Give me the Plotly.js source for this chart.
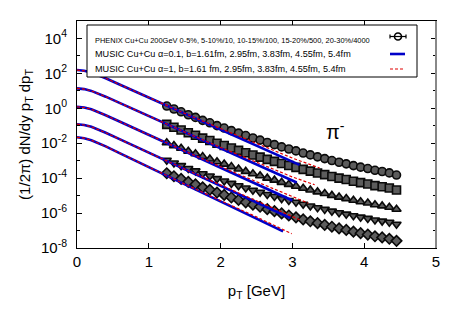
<!DOCTYPE html>
<html><head><meta charset="utf-8">
<script src="https://cdn.plot.ly/plotly-3.0.1.min.js"></script>
<style>html,body{margin:0;padding:0;background:#fff;}#chart{width:463px;height:324px;}</style>
</head><body><div id="chart"></div>
<script>
// ---- PHENIX data: pT grid shared by all centralities ----
const dataPt = [1.25,1.35,1.45,1.55,1.65,1.75,1.85,1.95,2.05,2.15,2.25,2.35,2.45,2.55,2.65,2.75,2.85,2.95,3.05,3.15,3.25,3.35,3.45,3.55,3.65,3.75,3.85,3.95,4.05,4.15,4.25,4.35,4.45];
const phenix0_5 = [1.35,0.912,0.631,0.427,0.302,0.204,0.148,0.102,0.0741,0.0525,0.0380,0.0275,0.0200,0.0151,0.0110,0.00832,0.00617,0.00468,0.00363,0.00275,0.00214,0.00166,0.00132,0.00102,0.000813,0.000661,0.000525,0.000427,0.000355,0.000282,0.000240,0.000200,0.000151];
const phenix5_10 = [0.120,0.0824,0.0578,0.0396,0.0284,0.0195,0.0143,0.0100,0.00738,0.00530,0.00389,0.00286,0.00210,0.00161,0.00119,0.000912,0.000685,0.000527,0.000415,0.000319,0.000251,0.000198,0.000159,0.000125,0.000101,8.32e-5,6.70e-5,5.52e-5,4.66e-5,3.75e-5,3.24e-5,2.73e-5,2.10e-5];
const phenix10_15 = [0.0107,0.00731,0.00512,0.00349,0.00250,0.00171,0.00125,0.000873,0.000638,0.000457,0.000334,0.000244,0.000179,0.000137,0.000100,7.69e-5,5.75e-5,4.42e-5,3.46e-5,2.65e-5,2.08e-5,1.63e-5,1.31e-5,1.03e-5,8.24e-6,6.76e-6,5.42e-6,4.46e-6,3.74e-6,3.01e-6,2.58e-6,2.17e-6,1.66e-6];
const phenix15_20 = [1.07e-3,7.40e-4,5.22e-4,3.60e-4,2.60e-4,1.79e-4,1.33e-4,9.36e-5,6.92e-5,5.00e-5,3.69e-5,2.73e-5,2.02e-5,1.56e-5,1.15e-5,8.93e-6,6.76e-6,5.24e-6,4.14e-6,3.21e-6,2.54e-6,2.01e-6,1.63e-6,1.29e-6,1.05e-6,8.69e-7,7.04e-7,5.83e-7,4.95e-7,4.02e-7,3.48e-7,2.96e-7,2.29e-7];
const phenix20_30 = [1.91e-4,1.29e-4,9.02e-5,6.12e-5,4.37e-5,2.97e-5,2.16e-5,1.50e-5,1.10e-5,7.80e-6,5.69e-6,4.14e-6,3.02e-6,2.30e-6,1.68e-6,1.28e-6,9.55e-7,7.28e-7,5.69e-7,4.34e-7,3.39e-7,2.64e-7,2.11e-7,1.65e-7,1.32e-7,1.08e-7,8.61e-8,7.04e-8,5.89e-8,4.70e-8,4.03e-8,3.37e-8,2.57e-8];

// ---- MUSIC alpha=0.1 (blue) ----
const bluePt1 = [0,0.1,0.2,0.3,0.4,0.6,0.8,1.0,1.5,2.0,2.5,3.1];
const blue1 = [155,141,112,79.4,52.5,22.4,9.55,4.07,0.490,0.0603,0.00741,0.000575];
const bluePt2 = [0,0.1,0.2,0.3,0.4,0.6,0.8,1.0,1.5,2.0,2.5,3.06];
const blue2 = [13.8,12.6,9.95,7.03,4.63,1.97,0.836,0.355,0.0422,0.00513,0.000624,5.62e-5];
const bluePt3 = [0,0.1,0.2,0.3,0.4,0.6,0.8,1.0,1.5,2.0,2.5,3.0];
const blue3 = [1.23,1.11,0.877,0.615,0.403,0.169,0.0708,0.0297,0.00342,0.000404,4.75e-5,5.25e-6];
const bluePt4 = [0,0.1,0.2,0.3,0.4,0.6,0.8,1.0,1.5,2.0,2.5,2.97];
const blue4 = [0.123,0.111,0.0869,0.0608,0.0396,0.0165,0.00687,0.00286,0.000323,3.73e-5,4.32e-6,5.25e-7];
const bluePt5 = [0,0.1,0.2,0.3,0.4,0.6,0.8,1.0,1.5,2.0,2.5,2.87];
const blue5 = [0.0219,0.0194,0.0149,0.0103,0.00658,0.00264,0.00106,0.000427,4.42e-5,4.68e-6,4.95e-7,8.91e-8];

// ---- MUSIC alpha=1 (red dashed) ----
const redPt1 = [0,0.1,0.2,0.3,0.4,0.6,0.8,1.0,1.5,2.0,2.5,3.0,3.38];
const red1 = [155,141,112,79.4,52.5,22.4,9.55,4.17,0.513,0.0692,0.0100,0.00141,0.00038];
const redPt2 = [0,0.1,0.2,0.3,0.4,0.6,0.8,1.0,1.5,2.0,2.5,3.0,3.31];
const red2 = [13.8,12.6,9.95,7.03,4.63,1.97,0.836,0.36,0.0437,0.00575,0.000794,0.000117,4.17e-5];
const redPt3 = [0,0.1,0.2,0.3,0.4,0.6,0.8,1.0,1.5,2.0,2.5,3.0,3.22];
const red3 = [1.23,1.11,0.877,0.615,0.403,0.169,0.0708,0.030,0.00355,0.000447,6.03e-5,8.32e-6,3.72e-6];
const redPt4 = [0,0.1,0.2,0.3,0.4,0.6,0.8,1.0,1.5,2.0,2.5,3.1];
const red4 = [0.123,0.111,0.0869,0.0608,0.0396,0.0165,0.00687,0.0029,0.000331,4.07e-5,5.25e-6,4.17e-7];
const redPt5 = [0,0.1,0.2,0.3,0.4,0.6,0.8,1.0,1.5,2.0,2.5,2.99];
const red5 = [0.0219,0.0194,0.0149,0.0103,0.00658,0.00264,0.00106,0.00043,4.57e-5,5.13e-6,6.03e-7,6.61e-8];

const yTickVals = [1e-8,1e-6,1e-4,1e-2,1,1e2,1e4];
const yTickText = ['10<sup>-8</sup>','10<sup>-6</sup>','10<sup>-4</sup>','10<sup>-2</sup>','10<sup>0</sup>','10<sup>2</sup>','10<sup>4</sup>'];
const xTickVals = [0,1,2,3,4,5];

const legendTexts = [
  'PHENIX Cu+Cu 200GeV 0-5%, 5-10%/10, 10-15%/100, 15-20%/500, 20-30%/4000',
  'MUSIC Cu+Cu \u03b1=0.1, b=1.61fm, 2.95fm, 3.83fm, 4.55fm, 5.4fm',
  'MUSIC Cu+Cu \u03b1=1, b=1.61 fm, 2.95fm, 3.83fm, 4.55fm, 5.4fm'
];

const FONT = 'Liberation Sans, Arial, Helvetica, sans-serif';
const dataSets = [phenix0_5, phenix5_10, phenix10_15, phenix15_20, phenix20_30];
const symbols = ['circle','square','triangle-up','triangle-down','diamond'];
const traces = [];
dataSets.forEach((ys, i) => {
  traces.push({x: dataPt, y: ys, type: 'scatter', mode: 'markers',
    marker: {symbol: symbols[i], size: 8, color: '#5c5c5c', line: {color: '#0a0a0a', width: 1.6}},
    error_y: {type: 'percent', value: 10, color: '#000', thickness: 1, width: 1.5},
    showlegend: false, hoverinfo: 'skip'});
});
const blues = [[bluePt1,blue1],[bluePt2,blue2],[bluePt3,blue3],[bluePt4,blue4],[bluePt5,blue5]];
blues.forEach(([x,y]) => traces.push({x, y, type:'scatter', mode:'lines',
  line:{color:'#0000c8', width:2.6}, showlegend:false, hoverinfo:'skip'}));
const reds = [[redPt1,red1],[redPt2,red2],[redPt3,red3],[redPt4,red4],[redPt5,red5]];
reds.forEach(([x,y]) => traces.push({x, y, type:'scatter', mode:'lines',
  line:{color:'#e00000', width:1.2, dash:'3px,2px'}, showlegend:false, hoverinfo:'skip'}));

const W = 463, H = 324, L = 77, R = 27, T = 21, B = 76;
const pw = W - L - R, ph = H - T - B;
const px = v => (v - L) / pw;           // pixel -> paper x
const py = v => (H - B - v) / ph;       // pixel -> paper y

const shapes = [
  {type:'rect', xref:'paper', yref:'paper', x0:px(87), x1:px(417), y0:py(77), y1:py(25), line:{color:'#000', width:1}, fillcolor:'#fff'},
  {type:'line', xref:'paper', yref:'paper', x0:px(390), x1:px(405), y0:py(54), y1:py(54), line:{color:'#0000c8', width:2.6}},
  {type:'line', xref:'paper', yref:'paper', x0:px(390), x1:px(405), y0:py(69), y1:py(69), line:{color:'#e00000', width:1.2, dash:'3px,2px'}},
  {type:'line', xref:'paper', yref:'paper', x0:px(390), x1:px(406), y0:py(36.5), y1:py(36.5), line:{color:'#000', width:1.2}},
  {type:'line', xref:'paper', yref:'paper', x0:px(390), x1:px(390), y0:py(34.5), y1:py(38.5), line:{color:'#000', width:1.2}},
  {type:'line', xref:'paper', yref:'paper', x0:px(406), x1:px(406), y0:py(34.5), y1:py(38.5), line:{color:'#000', width:1.2}},
  {type:'circle', xref:'paper', yref:'paper', x0:px(394.5), x1:px(401.5), y0:py(40), y1:py(33), line:{color:'#000', width:1.6}, fillcolor:'rgba(0,0,0,0)'},
  {type:'line', xref:'paper', yref:'paper', x0:1, x1:1, y0:0, y1:1, line:{color:'#888', width:2}}
];

const annotations = legendTexts.map((t, i) => ({
  xref:'paper', yref:'paper', x:px(93), y:py([40.7,54,69][i]), xanchor:'left', yanchor:'middle',
  text:t, showarrow:false, font:{family:FONT, size: i===0 ? 7.45 : 9.1, color:'#000'}
}));
annotations.push({xref:'x', yref:'y', x:3.6, y:-1.25, text:'\u03c0<sup>-</sup>', showarrow:false,
  font:{family:FONT, size:20, color:'#000'}});

const layout = {
  width: W, height: H, margin:{l:L, r:R, t:T, b:B},
  paper_bgcolor:'#fff', plot_bgcolor:'#fff', showlegend:false,
  font:{family:FONT, color:'#000'},
  xaxis:{range:[0,5], tickvals:xTickVals, ticks:'inside', ticklen:5, tickcolor:'#000',
    showline:true, linecolor:'#000', linewidth:1, mirror:'allticks', showgrid:false, zeroline:false,
    tickfont:{family:FONT, size:15}, title:{text:'p<sub>T</sub> [GeV]', font:{family:FONT, size:15}, standoff:16}},
  yaxis:{type:'log', range:[-8,5], tickvals:yTickVals, ticktext:yTickText, ticks:'inside', ticklen:5, tickcolor:'#000',
    minor:{tickvals:[1e-7,1e-5,1e-3,1e-1,10,1e3], ticks:'inside', ticklen:3, tickcolor:'#000'},
    showline:true, linecolor:'#000', linewidth:1, mirror:'allticks', showgrid:false, zeroline:false,
    tickfont:{family:FONT, size:15}, ticklabelstandoff:6,
    title:{text:'(1/2\u03c0) dN/dy p<sub>T</sub> dp<sub>T</sub>', font:{family:FONT, size:15}, standoff:6}},
  shapes, annotations
};
Plotly.newPlot('chart', traces, layout, {displayModeBar:false, staticPlot:true});
</script></body></html>
